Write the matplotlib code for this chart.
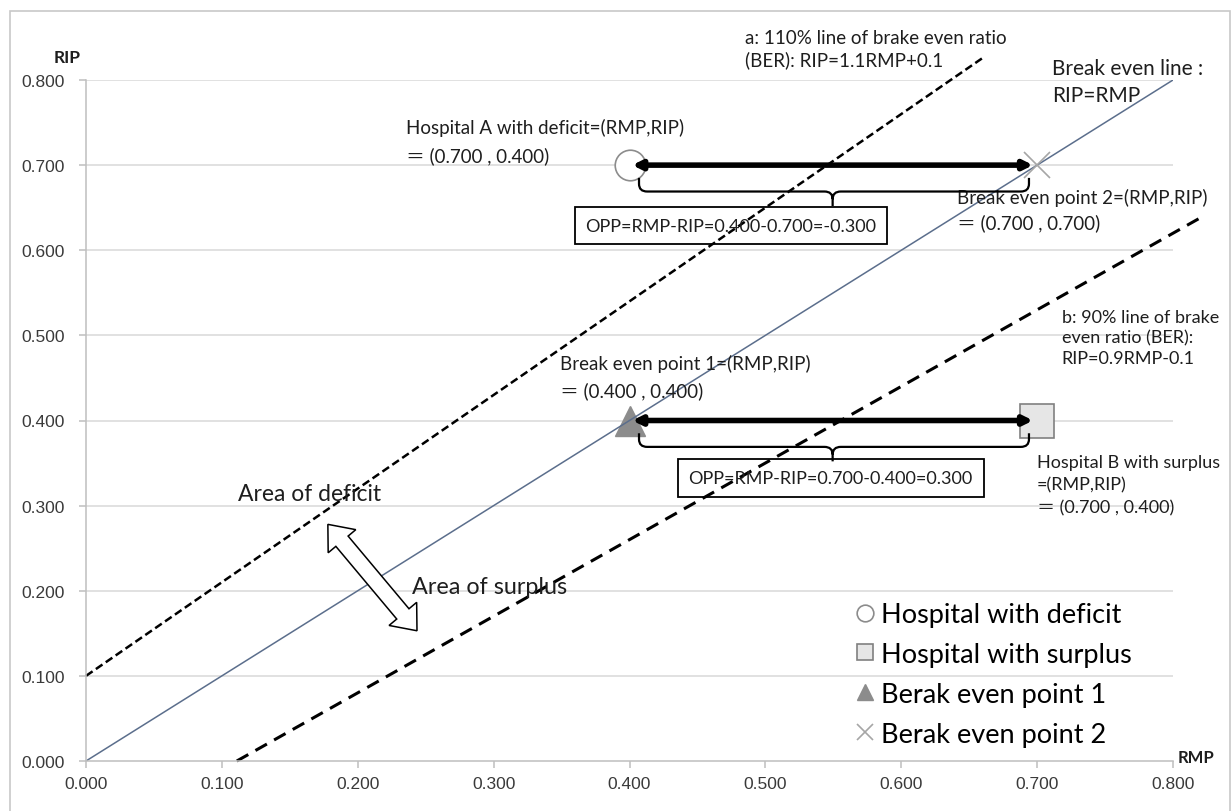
import numpy as np
import matplotlib
matplotlib.use('Agg')
import matplotlib.pyplot as plt
from matplotlib.lines import Line2D
from matplotlib.path import Path
from matplotlib.patches import PathPatch, Polygon, Rectangle

# data
ticks = [0.0, 0.1, 0.2, 0.3, 0.4, 0.5, 0.6, 0.7, 0.8]
tick_labels = ['0.000', '0.100', '0.200', '0.300', '0.400', '0.500', '0.600', '0.700', '0.800']

even_x = [0.0, 0.8]          # break even line RIP=RMP
even_y = [0.0, 0.8]
a_x = [0.0, 0.66]            # RIP=1.1RMP+0.1
a_y = [0.1, 0.826]
b_x = [0.111, 0.82]          # RIP=0.9RMP-0.1
b_y = [0.0, 0.638]

deficit_pt = (0.4, 0.7)
surplus_pt = (0.7, 0.4)
bep1_pt = (0.4, 0.4)
bep2_pt = (0.7, 0.7)

arrow_y = [0.7, 0.4]
arrow_x0 = 0.402
arrow_x1 = 0.697
opp_labels = ['OPP=RMP-RIP=0.400-0.700=-0.300', 'OPP=RMP-RIP=0.700-0.400=0.300']

legend_labels = ['Hospital with deficit', 'Hospital with surplus',
                 'Berak even point 1', 'Berak even point 2']

FONT = ['Lato', 'Noto Sans CJK JP', 'DejaVu Sans']
TXT = '#1e1e1e'

fig = plt.figure(figsize=(12.31, 8.12), dpi=100)
ax = fig.add_axes([86/1231, 50/812, 1087/1231, 681/812])
ax.set_xlim(0, 0.8)
ax.set_ylim(0, 0.8)

# grid / axes look (Excel style)
for y in ticks[1:]:
    ax.axhline(y, color='#d9d9d9', lw=1.1, zorder=0)
for s in ['top', 'right']:
    ax.spines[s].set_visible(False)
for s in ['left', 'bottom']:
    ax.spines[s].set_color('#bfbfbf')
    ax.spines[s].set_linewidth(1.1)
ax.set_xticks(ticks)
ax.set_xticklabels(tick_labels)
ax.set_yticks(ticks)
ax.set_yticklabels(tick_labels)
ax.tick_params(axis='x', length=5, width=1.1, color='#bfbfbf', pad=6,
               labelsize=12.5, labelcolor='#3a3a3a')
ax.tick_params(axis='y', length=5, width=1.1, color='#bfbfbf', pad=10,
               labelsize=12.5, labelcolor='#3a3a3a')
for lab in ax.get_xticklabels() + ax.get_yticklabels():
    lab.set_family('Liberation Sans')

# lines
ax.plot(even_x, even_y, color='#5b6e8c', lw=1.1, zorder=2)
ax.plot(a_x, a_y, color='black', lw=1.8, dashes=(3.2, 1.6), zorder=2, clip_on=False)
ax.plot(b_x, b_y, color='black', lw=2.2, dashes=(4.3, 2.7), zorder=2, clip_on=False)

# markers
ax.plot(*deficit_pt, marker='o', ms=22, mfc='white', mec='#8c8c8c', mew=1.2, zorder=3)
ax.plot(*surplus_pt, marker='s', ms=24, mfc='#e6e6e6', mec='#808080', mew=1.2, zorder=3)
ax.plot(*bep1_pt, marker='^', ms=22, color='#8c8c8c', zorder=1.5)
ax.plot(*bep2_pt, marker='x', ms=19, color='#a6a6a6', mew=1.2, zorder=3)

# double arrows, braces, OPP boxes
rx, ry = 0.006, 0.009
xm = (arrow_x0 + arrow_x1) / 2
for y, lab in zip(arrow_y, opp_labels):
    ax.annotate('', xy=(arrow_x1, y), xytext=(arrow_x0, y),
                arrowprops=dict(arrowstyle='<|-|>', lw=4, color='black',
                                mutation_scale=13, shrinkA=0, shrinkB=0), zorder=4)
    yt, yh, yb = y - 0.015, y - 0.031, y - 0.048
    x0, x1 = arrow_x0 + 0.005, arrow_x1 - 0.003
    verts = [(x0, yt), (x0, yh + ry), (x0, yh), (x0 + rx, yh), (xm - rx, yh),
             (xm, yh), (xm, yh - ry), (xm, yb),
             (xm, yh - ry), (xm, yh), (xm + rx, yh), (x1 - rx, yh),
             (x1, yh), (x1, yh + ry), (x1, yt)]
    codes = [Path.MOVETO, Path.LINETO, Path.CURVE3, Path.CURVE3, Path.LINETO,
             Path.CURVE3, Path.CURVE3, Path.LINETO,
             Path.MOVETO, Path.CURVE3, Path.CURVE3, Path.LINETO,
             Path.CURVE3, Path.CURVE3, Path.LINETO]
    ax.add_patch(PathPatch(Path(verts, codes), fill=False, lw=1.6, ec='black', zorder=4))

ax.text(0.4747, 0.629, opp_labels[0], ha='center', va='center', fontsize=13,
        family=FONT, color=TXT, zorder=5,
        bbox=dict(boxstyle='square,pad=0.6', fc='none', ec='black', lw=1.3))
ax.text(0.548, 0.3325, opp_labels[1], ha='center', va='center', fontsize=13,
        family=FONT, color=TXT, zorder=5,
        bbox=dict(boxstyle='square,pad=0.6', fc='none', ec='black', lw=1.3))

# annotations
ann = dict(fontsize=13.5, family=FONT, color=TXT, va='top', ha='left', clip_on=False)
ax.text(0.485, 0.8597, 'a: 110% line of brake even ratio\n(BER): RIP=1.1RMP+0.1',
        linespacing=1.3, **ann)
ax.text(0.711, 0.8257, 'Break even line :\nRIP=RMP', linespacing=1.4,
        **{**ann, 'fontsize': 15})
ax.text(0.2355, 0.7552, 'Hospital A with deficit=(RMP,RIP)\n＝ (0.700 , 0.400)',
        linespacing=1.65, **ann)
ax.text(0.641, 0.673, 'Break even point 2=(RMP,RIP)\n＝ (0.700 , 0.700)',
        linespacing=1.45, **ann)
ax.text(0.718, 0.5308, 'b: 90% line of brake\neven ratio (BER):\nRIP=0.9RMP-0.1',
        linespacing=1.35, **{**ann, 'fontsize': 13})
ax.text(0.349, 0.478, 'Break even point 1=(RMP,RIP)\n＝ (0.400 , 0.400)',
        linespacing=1.6, **ann)
ax.text(0.700, 0.3605, 'Hospital B with surplus\n=(RMP,RIP)\n＝ (0.700 , 0.400)',
        linespacing=1.5, **{**ann, 'fontsize': 13})
ax.text(0.112, 0.3264, 'Area of deficit', fontsize=16.5, family=FONT, color=TXT,
        va='top', ha='left')
ax.text(0.240, 0.2175, 'Area of surplus', fontsize=16.8, family=FONT, color=TXT,
        va='top', ha='left')

# axis titles
ax.text(-0.014, 0.821, 'RIP', fontsize=12.5, family=FONT, weight='bold',
        ha='center', va='baseline', clip_on=False, color=TXT)
ax.text(0.8035, -0.001, 'RMP', fontsize=12, family=FONT, weight='bold',
        ha='left', va='baseline', clip_on=False, color=TXT)

# hollow double block arrow between the areas
tip1 = np.array(ax.transData.transform((0.178, 0.278)))
tip2 = np.array(ax.transData.transform((0.2436, 0.153)))
u = (tip2 - tip1) / np.linalg.norm(tip2 - tip1)
n = np.array([-u[1], u[0]])
hl, hw, sw = 22, 18, 8
pts = [tip1, tip1 + u*hl + n*hw, tip1 + u*hl + n*sw, tip2 - u*hl + n*sw,
       tip2 - u*hl + n*hw, tip2, tip2 - u*hl - n*hw, tip2 - u*hl - n*sw,
       tip1 + u*hl - n*sw, tip1 + u*hl - n*hw]
pts = ax.transData.inverted().transform(np.array(pts))
ax.add_patch(Polygon(pts, closed=True, fc='white', ec='black', lw=1.1, zorder=5))

# legend
handles = [
    Line2D([], [], ls='none', marker='o', ms=12, mfc='white', mec='#8c8c8c', mew=1.2),
    Line2D([], [], ls='none', marker='s', ms=12, mfc='#e6e6e6', mec='#808080', mew=1.2),
    Line2D([], [], ls='none', marker='^', ms=12, color='#8c8c8c'),
    Line2D([], [], ls='none', marker='x', ms=12, color='#a6a6a6', mew=1.2),
]
ax.legend(handles, legend_labels, loc='upper left', bbox_to_anchor=(0.708, 0.2335),
          frameon=False, prop=dict(family=FONT, size=19.5), handlelength=0.7,
          handletextpad=0.22, labelspacing=0.55, borderpad=0, borderaxespad=0)

# outer frame
fig.patches.append(Rectangle((10/1231, -0.02), 1220/1231, 1.02 - 12/812,
                             transform=fig.transFigure, fill=False, ec='#c8c8c8', lw=1.2))

fig.savefig('out.png', dpi=100)
